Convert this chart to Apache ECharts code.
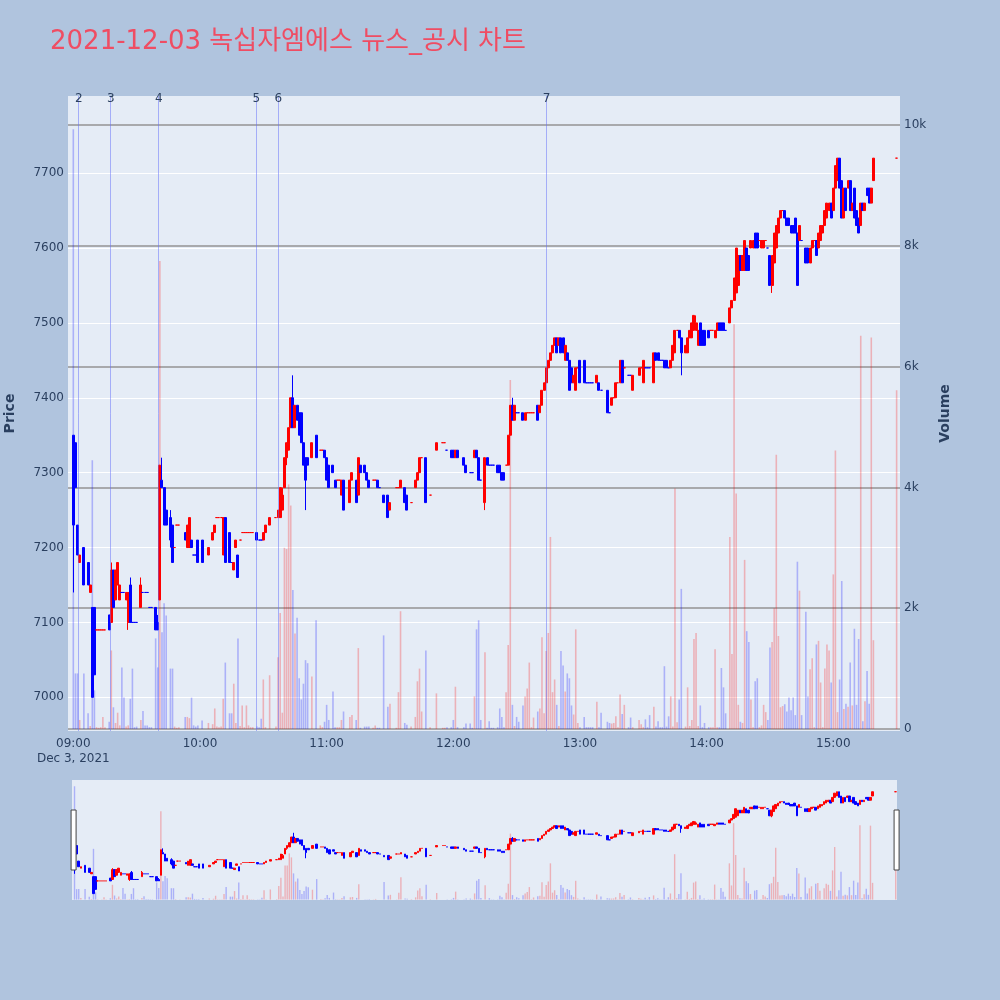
<!DOCTYPE html>
<html><head><meta charset="utf-8">
<script src="https://cdn.jsdelivr.net/npm/echarts@6/dist/echarts.min.js"></script>
<style>html,body{margin:0;padding:0;background:#b0c4de}#c{width:1000px;height:1000px}</style>
</head><body><div id="c"></div>
<script>
// minutes after 09:00
const minutes = [
0,1,2,3,5,7,8,9,10,11, 12,13,14,15,17,18,19,20,21,22, 23,24,25,26,27,28,29,30,32,33, 34,35,36,37,39,40,41,42,43,44,
46,47,48,49,50,53,54,55,56,57, 58,59,61,64,66,67,68,69,70,71, 72,74,75,76,77,78,79,80,81,82, 83,84,85,87,88,89,90,91,93,96,
97,98,99,100,101,102,103,104,105,106, 107,108,109,110,111,113,115,117,118,119, 120,121,123,124,125,126,127,128,131,132, 134,135,136,138,139,140,142,143,144,145,
147,149,150,153,154,155,157,158,160,162, 163,164,165,167,169,172,175,176,177,179, 180,181,182,185,186,188,189,190,191,192, 193,195,196,197,198,199,201,202,203,204,
205,206,207,208,209,210,211,213,214,215, 216,217,218,220,221,222,223,224,225,226, 227,228,229,230,231,232,233,234,235,236, 237,238,239,240,242,243,244,245,246,248,
249,250,253,254,255,256,257,258,259,260, 261,263,264,265,268,269,270,271,272,273, 275,276,277,278,279,280,281,282,283,284, 285,286,287,288,290,291,292,293,294,295,
296,297,298,299,301,302,303,304,305,306, 307,308,309,311,312,313,314,315,316,317, 318,319,320,321,322,323,324,325,326,327, 328,329,330,331,332,333,334,335,336,337,
338,339,340,341,342,343,344,345,347,348, 349,350,351,352,353,354,355,356,357,358, 359,360,361,362,363,364,365,366,367,368, 369,370,371,372,373,374,375,376,377,378,
379,390];
const opens = [
7350,7340,7230,7180,7200,7180,7140,7120,7120,7090, 7090,7090,7090,7090,7110,7100,7170,7130,7150,7130, 7140,7140,7130,7100,7150,7100,7100,7100,7120,7140, 7140,7140,7120,7120,7120,7100,7130,7290,7280,7250,
7240,7230,7200,7230,7230,7220,7200,7200,7210,7190, 7190,7210,7210,7190,7210,7220,7240,7240,7240,7190, 7240,7220,7180,7170,7200,7190,7210,7220,7220,7220, 7220,7220,7220,7220,7210,7210,7210,7220,7230,7240,
7240,7240,7250,7280,7320,7330,7360,7400,7360,7390, 7380,7380,7340,7320,7320,7320,7350,7330,7330,7330, 7320,7310,7310,7290,7290,7290,7270,7290,7260,7290, 7290,7270,7310,7310,7300,7290,7290,7290,7290,7280,
7270,7270,7250,7280,7280,7280,7280,7270,7260,7280, 7290,7300,7320,7320,7270,7330,7340,7340,7330,7330, 7330,7320,7330,7320,7310,7300,7300,7320,7330,7320, 7290,7260,7320,7310,7310,7310,7310,7310,7300,7300,
7310,7310,7350,7390,7370,7380,7380,7380,7370,7380, 7380,7380,7380,7390,7380,7390,7410,7420,7440,7450, 7460,7470,7480,7470,7480,7480,7450,7460,7450,7440, 7420,7410,7440,7450,7450,7420,7420,7420,7420,7420,
7420,7410,7410,7380,7390,7400,7400,7420,7420,7450, 7440,7430,7430,7410,7430,7440,7420,7440,7440,7440, 7420,7460,7460,7450,7450,7450,7450,7440,7440,7450, 7460,7490,7490,7480,7460,7460,7480,7480,7490,7490,
7470,7500,7490,7490,7490,7490,7490,7480,7490,7500, 7500,7500,7490,7500,7520,7530,7540,7550,7590,7570, 7570,7600,7590,7600,7600,7620,7620,7610,7600,7600, 7610,7600,7590,7550,7580,7600,7620,7640,7650,7650,
7640,7640,7630,7630,7640,7620,7610,7610,7600,7600, 7580,7600,7610,7610,7600,7610,7620,7630,7640,7650, 7660,7650,7680,7690,7720,7690,7640,7680,7680,7690, 7650,7680,7650,7640,7630,7660,7650,7680,7680,7660,
7690,7720];
const highs = [
7350,7340,7230,7190,7200,7180,7150,7120,7120,7090, 7090,7090,7090,7090,7110,7180,7170,7170,7180,7150, 7140,7140,7140,7140,7160,7100,7100,7100,7160,7140, 7140,7140,7120,7120,7120,7110,7310,7320,7280,7250,
7250,7230,7200,7230,7230,7220,7230,7240,7210,7190, 7190,7210,7210,7200,7220,7230,7240,7240,7240,7240, 7240,7220,7180,7180,7210,7190,7210,7220,7220,7220, 7220,7220,7220,7220,7210,7210,7220,7230,7240,7240,
7250,7280,7280,7320,7340,7360,7400,7430,7390,7390, 7380,7380,7340,7320,7320,7340,7350,7330,7330,7330, 7320,7310,7310,7290,7290,7290,7290,7290,7290,7300, 7290,7320,7310,7310,7300,7290,7290,7290,7290,7280,
7270,7270,7260,7280,7280,7290,7280,7270,7260,7290, 7300,7320,7320,7320,7270,7340,7340,7340,7330,7330, 7330,7330,7330,7320,7310,7300,7300,7330,7330,7320, 7290,7320,7320,7310,7310,7310,7310,7310,7300,7300,
7310,7350,7390,7400,7390,7380,7380,7380,7380,7380, 7380,7380,7380,7390,7390,7410,7420,7440,7450,7460, 7470,7480,7480,7480,7480,7480,7470,7460,7450,7440, 7430,7440,7440,7450,7450,7420,7420,7420,7420,7430,
7420,7410,7410,7380,7400,7400,7420,7420,7450,7450, 7440,7430,7430,7430,7440,7440,7450,7440,7440,7440, 7460,7460,7460,7450,7450,7450,7450,7440,7450,7470, 7490,7490,7490,7480,7470,7480,7490,7500,7510,7510,
7490,7500,7490,7490,7490,7490,7490,7490,7500,7500, 7500,7500,7490,7520,7530,7560,7600,7590,7590,7590, 7610,7600,7590,7610,7610,7620,7620,7610,7610,7610, 7610,7600,7590,7590,7620,7630,7640,7650,7650,7650,
7640,7640,7630,7630,7640,7620,7630,7610,7600,7600, 7600,7610,7610,7610,7620,7630,7630,7650,7660,7660, 7660,7680,7710,7720,7720,7690,7680,7680,7690,7690, 7660,7680,7650,7640,7660,7660,7660,7680,7680,7680,
7720,7720];
const lows = [
7140,7280,7190,7180,7150,7150,7140,7000,7030,7090, 7090,7090,7090,7090,7090,7100,7120,7130,7150,7130, 7140,7140,7130,7090,7100,7100,7100,7100,7120,7140, 7140,7140,7120,7120,7090,7090,7130,7280,7230,7230,
7200,7180,7200,7230,7230,7210,7200,7200,7200,7190, 7190,7180,7180,7190,7210,7220,7240,7240,7240,7190, 7180,7180,7180,7170,7200,7160,7210,7220,7220,7220, 7220,7220,7220,7210,7210,7210,7210,7220,7230,7240,
7240,7240,7250,7280,7310,7330,7360,7360,7360,7370, 7350,7340,7310,7250,7310,7320,7320,7330,7330,7320, 7290,7280,7300,7280,7290,7290,7270,7250,7260,7290, 7260,7270,7300,7300,7290,7280,7290,7290,7280,7280,
7260,7240,7250,7280,7280,7280,7260,7250,7260,7280, 7290,7300,7320,7260,7270,7330,7340,7340,7330,7320, 7320,7320,7320,7310,7300,7300,7300,7320,7320,7290, 7290,7250,7310,7310,7310,7310,7300,7300,7290,7290,
7310,7310,7350,7370,7370,7380,7380,7370,7370,7380, 7380,7380,7380,7370,7380,7390,7410,7420,7440,7450, 7460,7470,7460,7470,7460,7460,7450,7450,7410,7420, 7420,7410,7440,7420,7420,7420,7420,7420,7420,7420,
7410,7410,7380,7380,7390,7400,7400,7420,7420,7420, 7440,7430,7430,7410,7430,7440,7420,7440,7440,7440, 7420,7450,7450,7450,7450,7440,7440,7440,7440,7450, 7460,7490,7480,7430,7460,7460,7480,7480,7490,7490,
7470,7470,7470,7470,7480,7490,7490,7480,7490,7490, 7490,7490,7490,7500,7520,7530,7540,7550,7570,7570, 7570,7570,7570,7600,7600,7600,7600,7610,7600,7600, 7610,7600,7550,7540,7580,7600,7620,7640,7650,7640,
7630,7630,7620,7620,7620,7550,7610,7610,7580,7580, 7580,7600,7610,7590,7600,7610,7620,7630,7640,7650, 7640,7650,7680,7690,7680,7640,7640,7650,7680,7650, 7650,7640,7630,7620,7630,7650,7650,7670,7660,7660,
7690,7720];
const closes = [
7230,7280,7190,7190,7150,7150,7150,7000,7030,7090, 7090,7090,7090,7090,7090,7170,7120,7170,7180,7150, 7140,7140,7140,7140,7100,7100,7100,7100,7150,7140, 7140,7140,7120,7120,7090,7090,7310,7280,7230,7230,
7210,7180,7200,7230,7230,7210,7230,7240,7200,7190, 7190,7180,7180,7200,7220,7230,7240,7240,7240,7240, 7180,7180,7180,7180,7210,7160,7210,7220,7220,7220, 7220,7220,7220,7210,7210,7210,7220,7230,7240,7240,
7250,7280,7270,7320,7340,7360,7400,7360,7390,7370, 7350,7340,7310,7290,7310,7340,7320,7330,7330,7320, 7290,7280,7300,7280,7290,7290,7290,7250,7290,7300, 7260,7320,7300,7300,7290,7280,7290,7290,7280,7280,
7260,7240,7260,7280,7280,7290,7260,7250,7260,7290, 7300,7320,7320,7260,7270,7340,7340,7340,7330,7320, 7320,7330,7320,7310,7300,7300,7300,7330,7320,7290, 7290,7320,7310,7310,7310,7310,7300,7300,7290,7290,
7310,7350,7390,7370,7390,7380,7380,7370,7380,7380, 7380,7380,7380,7370,7390,7410,7420,7440,7450,7460, 7470,7480,7460,7480,7460,7460,7470,7450,7410,7420, 7430,7440,7440,7420,7420,7420,7420,7420,7420,7430,
7410,7410,7380,7380,7400,7400,7420,7420,7450,7420, 7440,7430,7430,7430,7440,7440,7450,7440,7440,7440, 7460,7450,7450,7450,7450,7440,7440,7440,7450,7470, 7490,7490,7480,7460,7470,7480,7490,7500,7510,7500,
7490,7470,7470,7470,7480,7490,7490,7490,7500,7490, 7490,7490,7490,7520,7530,7560,7600,7590,7570,7590, 7610,7570,7570,7610,7610,7600,7600,7610,7610,7610, 7610,7600,7550,7590,7620,7630,7640,7650,7650,7640,
7630,7630,7620,7620,7620,7550,7630,7610,7580,7580, 7600,7610,7610,7590,7620,7630,7630,7650,7660,7660, 7640,7680,7710,7720,7680,7640,7680,7650,7690,7650, 7660,7640,7630,7620,7660,7650,7660,7670,7660,7680,
7720,7720];
const volumes = [
9930,920,920,150,920,260,50,4450,640,30, 20,30,200,30,120,1300,360,100,270,60, 1020,520,40,60,500,1000,30,40,150,300, 60,60,30,30,1500,1020,7750,1600,2080,1880,
1000,1000,40,20,30,200,200,180,520,60, 40,60,140,100,80,340,40,30,40,500, 1100,260,260,750,100,1500,50,390,30,390, 60,30,30,40,30,170,820,30,890,40,
1190,1920,270,3000,2980,4050,3700,2300,1580,1840, 840,490,750,1140,1090,870,1800,60,30,120, 400,150,620,30,30,30,150,290,200,230, 150,1340,20,40,40,40,20,60,20,20,
1550,370,420,20,610,1950,100,70,40,200, 790,1000,290,1300,30,590,20,20,30,30, 150,700,30,30,90,90,20,540,1650,1800, 150,1270,20,130,20,20,30,340,200,30,
610,1390,5780,400,50,200,120,390,540,670, 1100,30,190,290,340,1520,260,1290,1590,3180, 610,820,400,50,1290,1050,620,920,840,390, 240,1650,100,30,200,30,30,30,30,450,
30,270,120,100,90,100,210,30,570,250, 400,30,190,30,150,80,30,160,30,230, 370,40,130,30,30,1040,40,210,540,40, 3980,110,490,2320,40,690,50,150,1490,1590,
50,390,30,100,30,30,30,1320,30,30, 1010,690,260,3180,1240,6700,3900,400,120,100, 2800,1620,1440,490,30,790,840,30,60,400, 280,150,1350,1440,2000,4540,1540,360,380,410,
290,520,310,520,230,2770,2290,230,1940,540, 990,1170,30,1400,1460,770,30,1000,1400,1300, 770,2560,4610,280,820,2450,330,420,370,1100, 390,1660,400,1490,6510,130,460,960,420,6480,
1470,5610];
const newsLabels = ['2','3','4','5','6','7'];
const newsTimes = ['09:02:34','09:17:43','09:40:27','10:26:42','10:37:06','12:44:10'];
const hourTicks = ['09:00','10:00','11:00','12:00','13:00','14:00','15:00'];
const priceTicks = [7000,7100,7200,7300,7400,7500,7600,7700];
const volumeTicks = [0,2000,4000,6000,8000,10000];

const FONT = "'DejaVu Sans', 'Noto Sans CJK KR', sans-serif";
const TXT = '#2a3f5f';
// clock string -> minutes after 09:00
function toMin(s){const p=s.split(':').map(Number);return (p[0]-9)*60+p[1]+(p[2]||0)/60;}
const pad = n => (n<10?'0':'')+n;
function clock(m){const t=Math.round(m)+540;return pad(Math.floor(t/60))+':'+pad(t%60);}

// plotly-style direction: close vs open, ties vs previous close, then previous direction
const dirs = [];
for (let i=0;i<closes.length;i++){
  let d;
  if (closes[i] > opens[i]) d = 1;
  else if (closes[i] < opens[i]) d = -1;
  else if (i>0 && closes[i] > closes[i-1]) d = 1;
  else if (i>0 && closes[i] < closes[i-1]) d = -1;
  else d = i>0 ? dirs[i-1] : 1;
  dirs.push(d);
}
const UP='#ff0000', DN='#0000ff';
const candleData = minutes.map((m,i)=>{const c = dirs[i]>0?UP:DN;
  return {value:[m, opens[i], closes[i], lows[i], highs[i]], itemStyle:{color:c,color0:c,borderColor:c,borderColor0:c}};});
const volData = minutes.map((m,i)=>({value:[m, volumes[i]], itemStyle:{color: dirs[i]>0?'rgba(255,0,0,0.25)':'rgba(0,0,255,0.25)'}}));

const xMin = toMin('08:57:29'), xMax = toMin('15:31:36');
const pMin = 6955, pMax = 7803, vMin = -33, vMax = 10480;
const hourVals = hourTicks.map(toMin);

const chart = echarts.init(document.getElementById('c'));
chart.setOption({
  animation:false,
  backgroundColor:'#b0c4de',
  title:{text:'2021-12-03 녹십자엠에스 뉴스_공시 차트', left:45, top:24,
    textStyle:{fontSize:26, color:'#ef4d63', fontWeight:'normal', fontFamily:FONT}},
  grid:[
    {left:68, right:100, top:96, bottom:269, show:true, backgroundColor:'#e5ecf6', borderWidth:0, outerBoundsMode:'none', containLabel:false},
    {left:72, right:103, top:780, height:120, show:true, backgroundColor:'#e5ecf6', borderWidth:0, outerBoundsMode:'none', containLabel:false}
  ],
  xAxis:[
    {type:'value', gridIndex:0, min:xMin, max:xMax,
      axisLine:{show:false}, axisTick:{show:false, customValues:hourVals}, splitLine:{show:false},
      axisLabel:{customValues:hourVals, color:TXT, fontSize:12, fontFamily:FONT, margin:5, lineHeight:15,
        formatter:v=> Math.round(v)===0 ? clock(v)+'\nDec 3, 2021' : clock(v)}},
    {type:'value', gridIndex:1, min:toMin('08:58:48'), max:toMin('15:30:36'), show:false, splitLine:{show:false}}
  ],
  yAxis:[
    {type:'value', gridIndex:0, position:'left', min:pMin, max:pMax,
      axisLine:{show:false}, axisTick:{show:false, customValues:priceTicks},
      axisLabel:{customValues:priceTicks, color:TXT, fontSize:12, fontFamily:FONT, margin:4, formatter:v=>String(v)},
      splitLine:{show:true, lineStyle:{color:'#ffffff', width:1}},
      name:'Price', nameLocation:'middle', nameGap:51, nameRotate:90,
      nameTextStyle:{color:TXT, fontSize:14, fontWeight:'bold', fontFamily:FONT}},
    {type:'value', gridIndex:0, position:'right', min:vMin, max:vMax,
      axisLine:{show:false}, axisTick:{show:false, customValues:volumeTicks},
      axisLabel:{customValues:volumeTicks, color:TXT, fontSize:12, fontFamily:FONT, margin:4,
        formatter:v=> v===0?'0':(v/1000)+'k'},
      splitLine:{show:true, lineStyle:{color:'#939393', width:1.5}},
      name:'Volume', nameLocation:'middle', nameGap:38, nameRotate:90,
      nameTextStyle:{color:TXT, fontSize:14, fontWeight:'bold', fontFamily:FONT}},
    {type:'value', gridIndex:1, min:pMin, max:pMax, show:false, splitLine:{show:false}},
    {type:'value', gridIndex:1, min:vMin, max:vMax, show:false, splitLine:{show:false}}
  ],
  dataZoom:[{type:'slider', xAxisIndex:0, left:72, right:103, top:780, height:120, start:0, end:100,
    filterMode:'none', showDataShadow:false, showDetail:false, brushSelect:false, moveHandleSize:0,
    backgroundColor:'rgba(0,0,0,0)', fillerColor:'rgba(0,0,0,0)', borderColor:'rgba(0,0,0,0)',
    handleIcon:'path://M0,0 L10,0 L10,120 L0,120 Z', handleSize:'50%',
    handleStyle:{color:'#ffffff', borderColor:'#444444', borderWidth:1}}],
  series:[
    {type:'bar', name:'Volume', xAxisIndex:0, yAxisIndex:1, barWidth:1.6, data:volData, z:1},
    {type:'candlestick', name:'Price', xAxisIndex:0, yAxisIndex:0, barWidth:2.5, data:candleData, z:3,
      itemStyle:{borderWidth:1},
      markLine:{silent:true, symbol:['none','none'], animation:false,
        lineStyle:{color:'rgba(99,110,250,0.5)', width:1, type:'solid'},
        label:{show:true, position:'end', distance:-9, color:TXT, fontSize:12, fontFamily:FONT},
        data:newsTimes.map((t,i)=>({xAxis:toMin(t), label:{formatter:newsLabels[i]}}))}},
    {type:'bar', xAxisIndex:1, yAxisIndex:3, barWidth:1.4, data:volData, z:1, silent:true},
    {type:'candlestick', xAxisIndex:1, yAxisIndex:2, barWidth:2, data:candleData, z:3, silent:true,
      itemStyle:{borderWidth:1}}
  ]
});
</script></body></html>
